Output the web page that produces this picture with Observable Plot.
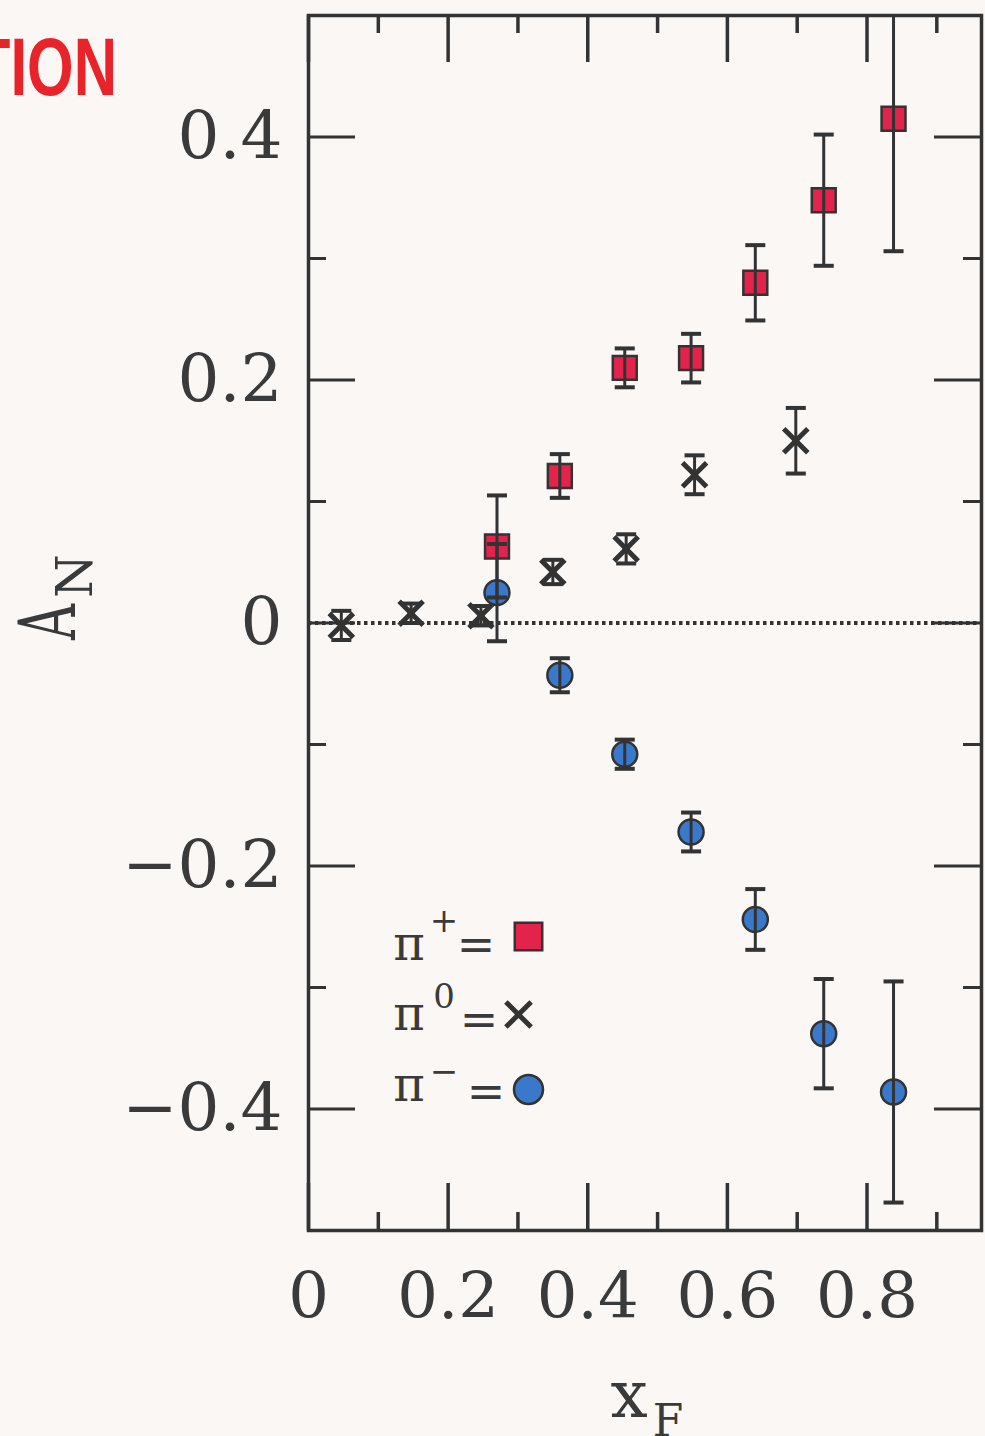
<!DOCTYPE html>
<html>
<head>
<meta charset="utf-8">
<script src="https://cdn.jsdelivr.net/npm/d3@7"></script>
<script src="https://cdn.jsdelivr.net/npm/@observablehq/plot@0.6"></script>
<style>
  html, body { margin: 0; padding: 0; background: #faf7f4; overflow: hidden; }
  #chart { width: 985px; height: 1436px; overflow: hidden; }
</style>
</head>
<body>
<div id="chart"></div>
<script>
// ---- data ----
const xPiPlus  = [0.270, 0.360, 0.453, 0.548, 0.640, 0.738, 0.838];
const aPiPlus  = [0.063, 0.121, 0.210, 0.218, 0.280, 0.348, 0.415];
const ePiPlus  = [0.042, 0.018, 0.016, 0.020, 0.031, 0.054, 0.109];

const xPiMinus = [0.270, 0.360, 0.453, 0.548, 0.640, 0.738, 0.838];
const aPiMinus = [0.025, -0.043, -0.108, -0.172, -0.244, -0.338, -0.386];
const ePiMinus = [0.040, 0.014, 0.012, 0.016, 0.025, 0.045, 0.091];

const xPiZero  = [0.047, 0.147, 0.247, 0.350, 0.455, 0.553, 0.698];
const aPiZero  = [-0.002, 0.008, 0.006, 0.042, 0.061, 0.122, 0.150];
const ePiZero  = [0.012, 0.008, 0.008, 0.010, 0.012, 0.016, 0.027];

const xMajorTicks = [0, 0.2, 0.4, 0.6, 0.8];
const xMinorTicks = [0.1, 0.3, 0.5, 0.7, 0.9];
const yMajorTicks = [-0.4, -0.2, 0, 0.2, 0.4];
const yMinorTicks = [-0.3, -0.1, 0.1, 0.3];
const xTickLabels = ["0", "0.2", "0.4", "0.6", "0.8"];
const yTickLabels = ["\u22120.4", "\u22120.2", "0", "0.2", "0.4"];

const seriesBase = ["\u03c0", "\u03c0", "\u03c0"];
const seriesSup  = ["+", "0", "\u2212"];

// ---- build tables ----
const rows = (xs, as, es, s) => xs.map((x, i) => ({x, a: as[i], e: es[i], s}));
const piPlus  = rows(xPiPlus,  aPiPlus,  ePiPlus,  "pi+");
const piMinus = rows(xPiMinus, aPiMinus, ePiMinus, "pi-");
const piZero  = rows(xPiZero,  aPiZero,  ePiZero,  "pi0");
const all = [...piZero, ...piPlus, ...piMinus];

// ---- layout ----
const W = 985, Hh = 1436;
const mL = 308, mR = 4, mT = 15, mB = 206;
const FW = W - mL - mR, FH = Hh - mT - mB;
const majorLen = 47, minorLen = 18;
const ink = "#333333";
const textInk = "#3a3a3a";
const serif = "DejaVu Serif";
const red = "#e3234b", blue = "#3a78cc";

const capSymbol = {
  draw(context, size) {
    const w = Math.sqrt(size) / 2;
    context.moveTo(-w, 0);
    context.lineTo(w, 0);
  }
};

const chart = Plot.plot({
  width: W,
  height: Hh,
  marginLeft: mL,
  marginRight: mR,
  marginTop: mT,
  marginBottom: mB,
  style: {background: "#faf7f4", color: textInk},
  x: {domain: [0, 0.964]},
  y: {domain: [-0.5, 0.5]},
  marks: [
    // zero line (dotted)
    Plot.ruleY([0], {stroke: ink, strokeWidth: 4, strokeDasharray: "3.5,3.5"}),
    // inward ticks: bottom, top, left, right
    Plot.tickX(xMajorTicks, {x: d => d, insetTop: FH - majorLen, stroke: ink, strokeWidth: 3.5}),
    Plot.tickX(xMinorTicks, {x: d => d, insetTop: FH - minorLen, stroke: ink, strokeWidth: 3.5}),
    Plot.tickX(xMajorTicks, {x: d => d, insetBottom: FH - majorLen, stroke: ink, strokeWidth: 3.5}),
    Plot.tickX(xMinorTicks, {x: d => d, insetBottom: FH - minorLen, stroke: ink, strokeWidth: 3.5}),
    Plot.tickY(yMajorTicks, {y: d => d, insetRight: FW - majorLen, stroke: ink, strokeWidth: 3}),
    Plot.tickY(yMinorTicks, {y: d => d, insetRight: FW - minorLen, stroke: ink, strokeWidth: 3}),
    Plot.tickY(yMajorTicks, {y: d => d, insetLeft: FW - majorLen, stroke: ink, strokeWidth: 3}),
    Plot.tickY(yMinorTicks, {y: d => d, insetLeft: FW - minorLen, stroke: ink, strokeWidth: 3}),
    // tick labels
    Plot.axisX(xMajorTicks, {
      tickSize: 0, tickPadding: 42, label: null,
      tickFormat: d => xTickLabels[xMajorTicks.indexOf(d)],
      fontSize: 64, fontFamily: serif, fill: textInk
    }),
    Plot.axisY(yMajorTicks, {
      tickSize: 0, tickPadding: 26, label: null,
      tickFormat: d => yTickLabels[yMajorTicks.indexOf(d)],
      fontSize: 66, fontFamily: serif, fill: textInk
    }),
    // markers
    Plot.dot(piPlus, {x: "x", y: "a", symbol: "square", r: 13.5, fill: red, stroke: ink, strokeWidth: 2.5}),
    Plot.dot(piMinus, {x: "x", y: "a", symbol: "circle", r: 12.5, fill: blue, stroke: ink, strokeWidth: 2.5}),
    Plot.dot(piZero, {x: "x", y: "a", symbol: "times", r: 11, stroke: ink, strokeWidth: 5}),
    Plot.dot(piZero, {x: "x", y: "a", symbol: "square", r: 4, fill: ink}),
    // error bars
    Plot.ruleX(all, {x: "x", y1: d => d.a - d.e, y2: d => d.a + d.e, stroke: ink, strokeWidth: 3, clip: true}),
    Plot.dot(all, {x: "x", y: d => d.a + d.e, symbol: capSymbol, r: 11.3, fill: "none", stroke: ink, strokeWidth: 4, clip: true}),
    Plot.dot(all, {x: "x", y: d => d.a - d.e, symbol: capSymbol, r: 11.3, fill: "none", stroke: ink, strokeWidth: 4, clip: true}),
    // legend symbols
    Plot.dot([seriesSup[0]], {frameAnchor: "top-left", dx: 220, dy: 921, symbol: "square", r: 15.5, fill: red, stroke: ink, strokeWidth: 2.5}),
    Plot.dot([seriesSup[1]], {frameAnchor: "top-left", dx: 210, dy: 999, symbol: "times", r: 11.5, stroke: ink, strokeWidth: 5}),
    Plot.dot([seriesSup[1]], {frameAnchor: "top-left", dx: 210, dy: 999, symbol: "square", r: 4, fill: ink}),
    Plot.dot([seriesSup[2]], {frameAnchor: "top-left", dx: 220, dy: 1074, symbol: "circle", r: 14.5, fill: blue, stroke: ink, strokeWidth: 2.5}),
    // frame
    Plot.frame({stroke: ink, strokeWidth: 3.5})
  ]
});

document.getElementById("chart").appendChild(chart);

const svg = d3.select(chart);
const addText = (x, y, str, size, opts = {}) => svg.append("text")
  .attr("x", x).attr("y", y)
  .attr("text-anchor", opts.anchor || "middle")
  .attr("font-family", opts.family || serif)
  .attr("font-size", size)
  .attr("font-weight", opts.weight || "normal")
  .attr("fill", opts.fill || textInk)
  .attr("transform", opts.transform || null)
  .text(str);

// legend text
const legendPiBase = [960, 1030, 1101];
const legendSupBase = [932, 1008, 1083];
const legendEqBase = [960, 1035, 1107];
const legendEqX = [476, 479, 486];
seriesBase.forEach((b, i) => {
  addText(409, legendPiBase[i], b, 48);
  addText(444, legendSupBase[i], seriesSup[i], 34);
  addText(legendEqX[i], legendEqBase[i], "=", 46);
});

// y-axis title A_N (rotated)
addText(0, 0, "A", 78, {transform: "translate(75,622) rotate(-90) scale(0.64,1)"});
addText(0, 0, "N", 50, {transform: "translate(92,576) rotate(-90)"});

// x-axis title x_F
addText(629, 1417, "x", 66);
addText(668, 1436, "F", 44);

// cropped slide title fragment
addText(0, 0, "TION", 81, {
  anchor: "end", family: "Liberation Sans", weight: "bold", fill: "#e8232a",
  transform: "translate(117,95) scale(0.74,1)"
});
</script>
</body>
</html>
